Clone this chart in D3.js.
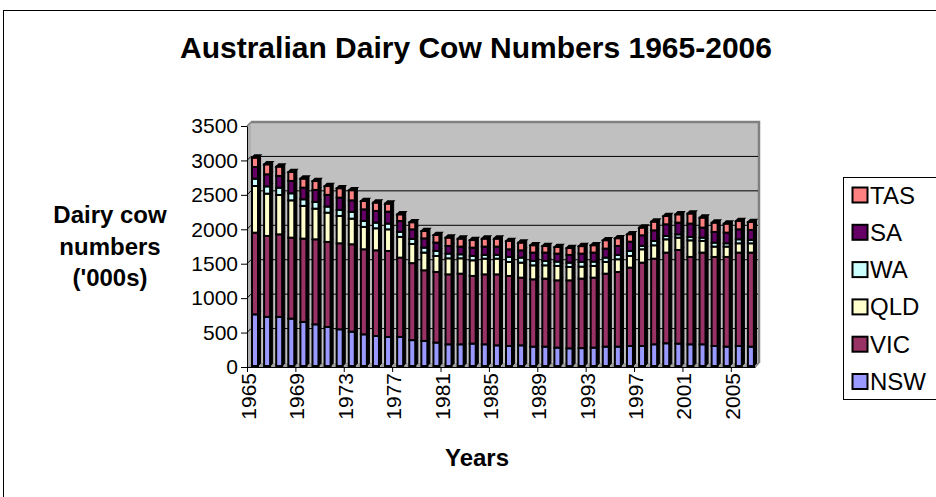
<!DOCTYPE html>
<html><head><meta charset="utf-8">
<script src="https://cdn.jsdelivr.net/npm/d3@7"></script>
<style>body{margin:0;background:#fff}svg{display:block;font-family:"Liberation Sans",Arial,sans-serif}</style>
</head><body><svg id="c" width="936" height="497"></svg>
<script>
const years = [1965,1966,1967,1968,1969,1970,1971,1972,1973,1974,1975,1976,1977,1978,1979,1980,1981,1982,1983,1984,1985,1986,1987,1988,1989,1990,1991,1992,1993,1994,1995,1996,1997,1998,1999,2000,2001,2002,2003,2004,2005,2006];
const NSW = [750,713,713,688,640,605,567,533,499,460,436,422,422,376,364,340,315,315,325,315,300,291,300,281,281,267,257,260,267,281,281,291,291,315,330,325,315,315,291,281,291,281];
const VIC = [1186,1176,1199,1176,1210,1235,1235,1249,1269,1235,1244,1249,1152,1118,1026,1026,1016,1026,983,1016,1031,1017,983,978,988,977,987,1009,1016,1060,1085,1138,1210,1244,1317,1360,1269,1332,1293,1303,1356,1366];
const QLD = [678,614,572,542,475,445,425,397,372,325,320,314,301,278,257,232,233,223,227,228,228,203,218,203,193,209,194,174,170,170,184,169,194,194,193,179,241,169,150,150,135,135];
const WA  = [106,106,106,102,96,98,88,88,98,87,82,83,72,73,72,73,68,58,63,54,54,73,73,64,64,63,63,68,63,63,63,73,49,63,49,48,49,48,58,48,58,49];
const SA  = [170,175,170,180,169,174,170,178,168,168,170,174,159,140,135,121,112,112,121,121,121,111,106,121,121,116,112,121,131,131,131,135,154,154,169,170,194,146,155,155,145,145];
const TAS = [135,144,135,129,131,129,128,135,145,121,120,116,96,101,106,110,120,115,110,115,115,120,111,105,95,96,100,108,105,120,110,106,111,126,120,120,145,144,134,130,120,115];
const seriesNames = ["NSW","VIC","QLD","WA","SA","TAS"];
const seriesColors = ["#9999ff","#993366","#ffffcc","#ccffff","#660066","#ff8080"];
const yTicks = [0,500,1000,1500,2000,2500,3000,3500];
const xTickIdx = [0,4,8,12,16,20,24,28,32,36,40];

const seriesData = {NSW, VIC, QLD, WA, SA, TAS};
const table = years.map((yr,i)=>{const o={year:yr}; seriesNames.forEach(k=>o[k]=seriesData[k][i]); return o;});
const FONT = "Liberation Sans, Arial, sans-serif";

const svg = d3.select("#c");
svg.append("rect").attr("x",3.5).attr("y",10.5).attr("width",945).attr("height",500)
  .attr("fill","#fff").attr("stroke","#000").attr("stroke-width",1);

const L=247, R=755, T=126, B=367, D=4;
const x = d3.scaleBand().domain(years).range([L,R]).padding(0);
const xb = d3.scaleLinear().domain([0,years.length]).range([L,R]);
const y = d3.scaleLinear().domain([0,3500]).range([B,T]);

// walls
svg.append("path").attr("d",`M${L},${B}L${L},${T}L${L+D},${T-D}L${L+D},${B-D}Z`).attr("fill","#b0b0b0");
svg.append("rect").attr("x",L+D).attr("y",T-D).attr("width",R-L).attr("height",B-T).attr("fill","#c0c0c0");
svg.append("path").attr("d",`M${L+D},${T-D}L${R+D},${T-D}L${R+D},${B-D}`)
  .attr("fill","none").attr("stroke","#808080").attr("stroke-width",2.5);
svg.append("path").attr("d",`M${L},${T}L${L+D},${T-D}`).attr("stroke","#808080").attr("stroke-width",1.5);
svg.append("path").attr("d",`M${L},${B}L${L+D},${B-D}L${R+D},${B-D}L${R},${B}Z`).attr("fill","#a0a0a0");
svg.append("path").attr("d",`M${R},${B}L${R+D},${B-D}`).attr("stroke","#808080").attr("stroke-width",1.5);

// gridlines
const gl = svg.append("g");
yTicks.filter(v=>v>0 && v<3500).forEach(v=>{
  gl.append("line").attr("x1",L+D).attr("x2",R+D-1).attr("y1",y(v)-D).attr("y2",y(v)-D).attr("stroke","#000").attr("stroke-width",1);
  gl.append("line").attr("x1",L).attr("x2",L+D).attr("y1",y(v)).attr("y2",y(v)-D).attr("stroke","#000").attr("stroke-width",1);
});

// bars
const stack = d3.stack().keys(seriesNames)(table);
const FW = 6, SD = 2.6, OFF = 5;
const bars = svg.append("g");
stack.forEach((layer,li)=>{
  layer.forEach((d,i)=>{
    const x0 = x(years[i]) + OFF;
    const yt = y(d[1]) - 1, yb = y(d[0]) - 1;
    bars.append("path").attr("d",`M${x0+FW},${yt}L${x0+FW+SD},${yt-SD}L${x0+FW+SD},${yb-SD}L${x0+FW},${yb}Z`)
      .attr("fill","#000").attr("stroke","#000").attr("stroke-width",1);
    bars.append("rect").attr("x",x0).attr("y",yt).attr("width",FW).attr("height",Math.max(0,yb-yt))
      .attr("fill",seriesColors[li]).attr("stroke","#000").attr("stroke-width",2);
    if(li===stack.length-1){
      bars.append("path").attr("d",`M${x0},${yt}L${x0+SD},${yt-SD}L${x0+FW+SD},${yt-SD}L${x0+FW},${yt}Z`)
        .attr("fill","#000").attr("stroke","#000").attr("stroke-width",1.5);
    }
  });
});

// y axis
const ya = svg.append("g").attr("transform",`translate(${L},0)`)
  .call(d3.axisLeft(y).tickValues(yTicks).tickFormat(d3.format("d")).tickSize(6).tickSizeOuter(0).tickPadding(3));
ya.select(".domain").attr("stroke","#000");
ya.selectAll("line").attr("stroke","#000");
ya.selectAll("text").attr("font-size",21).attr("font-family",FONT).attr("fill","#000");

// x axis
const xa = svg.append("g").attr("transform",`translate(0,${B})`)
  .call(d3.axisBottom(xb).tickValues(xTickIdx).tickFormat(i=>years[i]).tickSize(5).tickSizeOuter(0));
xa.select(".domain").attr("stroke","#000");
xa.selectAll("line").attr("stroke","#000");
xa.selectAll("text").attr("font-size",21).attr("font-family",FONT).attr("fill","#000")
  .attr("text-anchor","end").attr("dy",null).attr("y",null)
  .attr("transform","translate(8.5,6) rotate(-90)");

// titles
svg.append("text").attr("x",476).attr("y",58).attr("text-anchor","middle").attr("font-family",FONT)
  .attr("font-size",30).attr("font-weight","bold").text("Australian Dairy Cow Numbers 1965-2006");
const ytl = svg.append("text").attr("text-anchor","middle").attr("font-size",24).attr("font-weight","bold").attr("font-family",FONT);
[["Dairy cow",223],["numbers",255],["('000s)",286]].forEach(([t,yy])=>ytl.append("tspan").attr("x",110).attr("y",yy).text(t));
svg.append("text").attr("x",477).attr("y",466).attr("text-anchor","middle").attr("font-family",FONT)
  .attr("font-size",24).attr("font-weight","bold").text("Years");

// legend
const lg = svg.append("g");
lg.append("rect").attr("x",843.5).attr("y",177.5).attr("width",110).attr("height",222)
  .attr("fill","#fff").attr("stroke","#000").attr("stroke-width",1);
const legOrder = seriesNames.slice().reverse();
legOrder.forEach((k,j)=>{
  const cy = 195 + j*37.3;
  const ci = seriesNames.indexOf(k);
  lg.append("rect").attr("x",852.5).attr("y",cy-7.5).attr("width",15).attr("height",15)
    .attr("fill",seriesColors[ci]).attr("stroke","#000").attr("stroke-width",2);
  lg.append("text").attr("x",870).attr("y",cy+8.5).attr("font-size",24).attr("font-family",FONT).text(k);
});
</script></body></html>
